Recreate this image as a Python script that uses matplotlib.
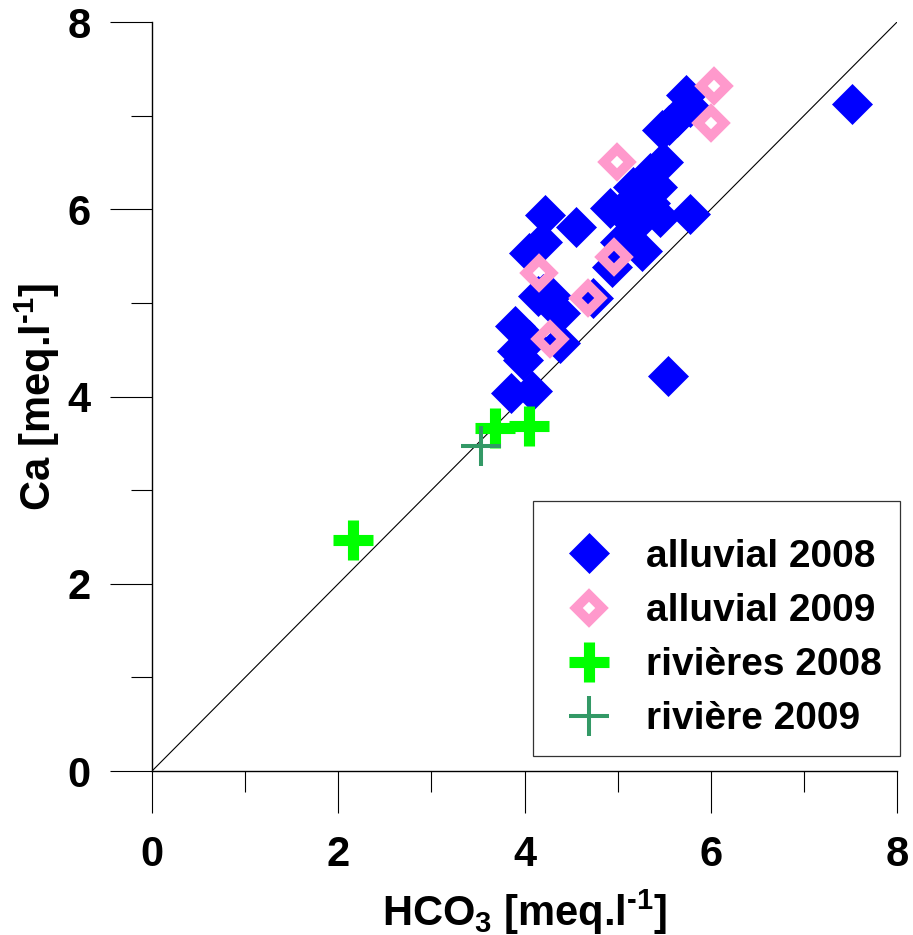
import matplotlib
matplotlib.use("Agg")
import matplotlib.pyplot as plt
from matplotlib.ticker import MultipleLocator
from matplotlib.patches import Rectangle

# alluvial 2008 (HCO3, Ca) in meq/l
alluv08_hco3 = [7.52, 5.73, 5.78, 5.64, 5.55, 5.48, 5.49, 5.35, 5.17, 5.42,
                5.28, 4.92, 5.10, 5.35, 5.78, 5.45, 5.10, 5.21, 5.03, 5.26,
                4.94, 4.55, 4.22, 4.19, 4.05, 4.20, 4.28, 4.15, 4.74, 4.38,
                3.90, 4.38, 3.92, 3.98, 4.05, 3.85, 4.08, 5.54]
alluv08_ca = [7.13, 7.22, 7.09, 6.99, 6.90, 6.85, 6.50, 6.39, 6.24, 6.24,
              6.15, 6.01, 6.05, 6.07, 5.95, 5.92, 5.92, 5.85, 5.65, 5.55,
              5.38, 5.81, 5.94, 5.65, 5.53, 5.10, 5.07, 5.07, 5.05, 4.89,
              4.75, 4.57, 4.49, 4.39, 4.60, 4.04, 4.06, 4.22]

# alluvial 2009
alluv09_hco3 = [6.04, 6.00, 4.99, 4.96, 4.16, 4.68, 4.27]
alluv09_ca = [7.32, 6.92, 6.50, 5.49, 5.32, 5.05, 4.61]

# rivers
riv08_hco3 = [2.16, 3.68, 4.05]
riv08_ca = [2.47, 3.66, 3.68]
riv09_hco3 = [3.53]
riv09_ca = [3.47]

lims = [0, 8]

plt.rcParams["font.family"] = ["Liberation Sans", "DejaVu Sans"]
plt.rcParams["font.weight"] = "bold"
plt.rcParams["mathtext.fontset"] = "custom"
plt.rcParams["mathtext.rm"] = "Liberation Sans:bold"
plt.rcParams["mathtext.default"] = "rm"

fig = plt.figure(figsize=(9.13, 9.35), dpi=100)
ax = fig.add_axes([0.1665, 0.1754, 0.816, 0.801])

ax.plot(lims, lims, color="black", lw=0.8, zorder=1)

ax.plot(alluv08_hco3, alluv08_ca, ls="none", marker="D", ms=20.5,
        color="#0000ff", mec="#0000ff", mew=0.5, label="alluvial 2008", zorder=2)
ax.plot(alluv09_hco3, alluv09_ca, ls="none", marker="D", ms=13.5,
        mfc="none", mec="#ff99cc", mew=6.9, label="alluvial 2009", zorder=3)
ax.plot(riv08_hco3, riv08_ca, ls="none", marker="+", ms=29,
        mec="#00ff00", mew=8, label="rivières 2008", zorder=4)
ax.plot(riv09_hco3, riv09_ca, ls="none", marker="+", ms=29,
        mec="#339966", mew=2.9, label="rivière 2009", zorder=5)

ax.set_xlim(lims)
ax.set_ylim(lims)
ax.xaxis.set_major_locator(MultipleLocator(2))
ax.xaxis.set_minor_locator(MultipleLocator(1))
ax.yaxis.set_major_locator(MultipleLocator(2))
ax.yaxis.set_minor_locator(MultipleLocator(1))

for s in ["top", "right"]:
    ax.spines[s].set_visible(False)
for s in ["left", "bottom"]:
    ax.spines[s].set_linewidth(1.0)

ax.tick_params(which="major", direction="out", length=30, width=0.8,
               labelsize=30, pad=14)
ax.tick_params(which="minor", direction="out", length=15, width=0.8)
ax.tick_params(axis="x", which="major", pad=16)

ax.set_xlabel(r"HCO$_3$ [meq.l$^{\text{-1}}$]", fontsize=30, fontweight="bold", labelpad=9)
ax.set_ylabel(r"Ca [meq.l$^{\text{-1}}$]", fontsize=30, fontweight="bold", labelpad=4)

# legend without its own frame, box drawn separately
leg = ax.legend(loc="upper left", bbox_to_anchor=(0.5376, 0.3097),
                prop={"size": 28, "weight": "bold"}, frameon=False,
                borderpad=0, labelspacing=0.465,
                handlelength=1.88, handletextpad=0.53, borderaxespad=0)
box = Rectangle((0.5114, 0.020), 0.4926, 0.3405, transform=ax.transAxes,
                fill=False, edgecolor="#333333", lw=0.9, clip_on=False, zorder=6)
ax.add_patch(box)

fig.savefig("out.png", dpi=100)
